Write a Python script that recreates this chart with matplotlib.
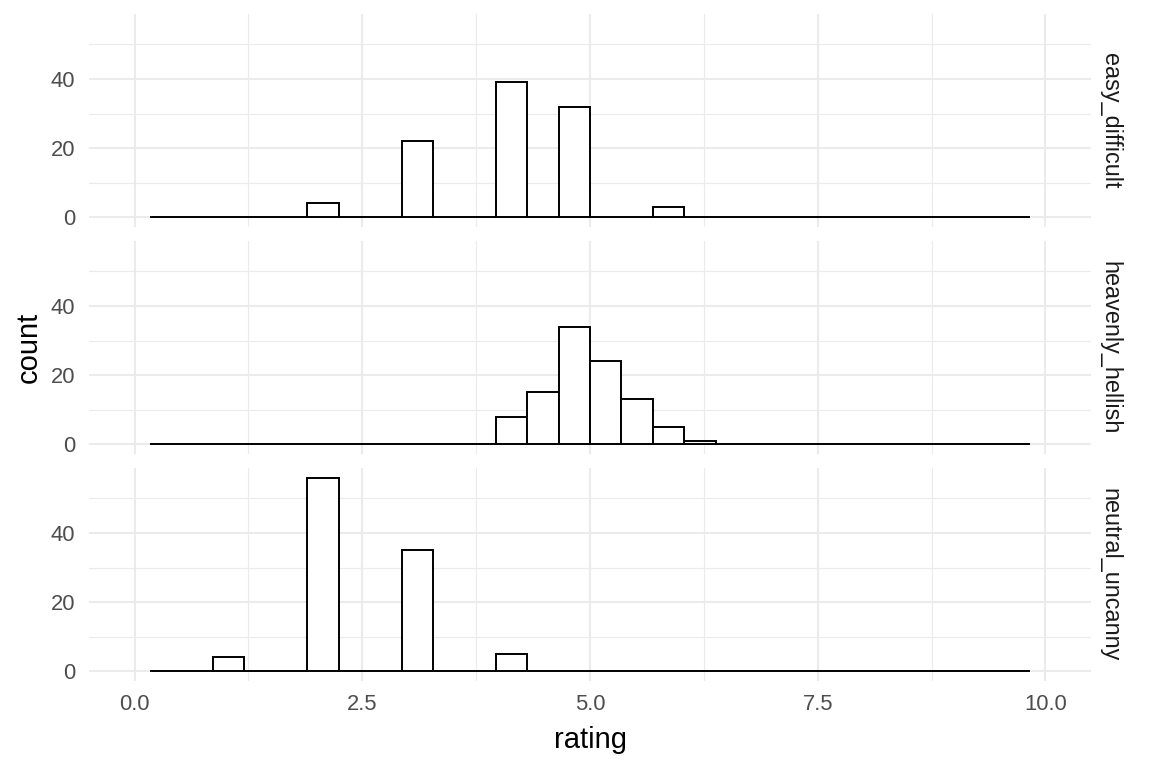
import numpy as np
import matplotlib
matplotlib.use("Agg")
import matplotlib.pyplot as plt
from matplotlib.ticker import MultipleLocator

plt.rcParams['font.family'] = ['Liberation Sans', 'DejaVu Sans']

# Histogram bins (30 bins over 0..10, outer two dropped by the x limits)
bin_width = 10 / 29
bin_index = list(range(1, 29))
bin_centers = [bin_width * k for k in bin_index]

facets = ["easy_difficult", "heavenly_hellish", "neutral_uncanny"]
# counts per bin index k (bin center = k * width)
easy_difficult = {6: 4, 9: 22, 12: 39, 14: 32, 17: 3}
heavenly_hellish = {12: 8, 13: 15, 14: 34, 15: 24, 16: 13, 17: 5, 18: 1}
neutral_uncanny = {3: 4, 6: 56, 9: 35, 12: 5}
series = [easy_difficult, heavenly_hellish, neutral_uncanny]

x_ticks = [0.0, 2.5, 5.0, 7.5, 10.0]
x_labels = ["0.0", "2.5", "5.0", "7.5", "10.0"]
y_ticks = [0, 20, 40]

W, H = 1152, 768
fig = plt.figure(figsize=(W / 100, H / 100), dpi=100)

left, right = 89, 1091
tops = [14, 241, 468]
ph = 213
ymax = 56
txt_col = "#4D4D4D"
grid_col = "#EBEBEB"

for i, (name, data) in enumerate(zip(facets, series)):
    top = tops[i]
    ax = fig.add_axes([left / W, 1 - (top + ph) / H, (right - left) / W, ph / H])
    counts = [data.get(k, 0) for k in bin_index]
    ax.bar(bin_centers, counts, width=bin_width, facecolor="white",
           edgecolor="black", linewidth=1.4, zorder=3)
    ax.set_xlim(-0.5, 10.5)
    ax.set_ylim(-0.05 * ymax, 1.05 * ymax)
    ax.xaxis.set_major_locator(MultipleLocator(2.5))
    ax.xaxis.set_minor_locator(MultipleLocator(1.25))
    ax.set_yticks(y_ticks)
    ax.yaxis.set_minor_locator(MultipleLocator(10))
    ax.grid(which="major", color=grid_col, linewidth=1.5, zorder=0)
    ax.grid(which="minor", color=grid_col, linewidth=0.8, zorder=0)
    ax.set_axisbelow(True)
    for s in ax.spines.values():
        s.set_visible(False)
    ax.tick_params(which="both", length=0)
    ax.tick_params(axis="y", labelsize=15.8, labelcolor=txt_col, pad=10)
    if i == 2:
        ax.set_xticks(x_ticks)
        ax.set_xticklabels(x_labels)
        ax.tick_params(axis="x", labelsize=15.8, labelcolor=txt_col, pad=9)
    else:
        ax.tick_params(axis="x", labelbottom=False)
    ax.text(1.0 + 19 / (right - left), 0.5, name, transform=ax.transAxes,
            rotation=-90, ha="center", va="center", fontsize=16.8,
            color="#1A1A1A")

fig.text(29 / W, 1 - 347 / H, "count", rotation=90, ha="center", va="center",
         fontsize=21, color="black")
fig.text((left + right) / 2 / W, 1 - 740 / H, "rating", ha="center",
         va="center", fontsize=21, color="black")

fig.savefig("out.png", dpi=100, facecolor="white")
